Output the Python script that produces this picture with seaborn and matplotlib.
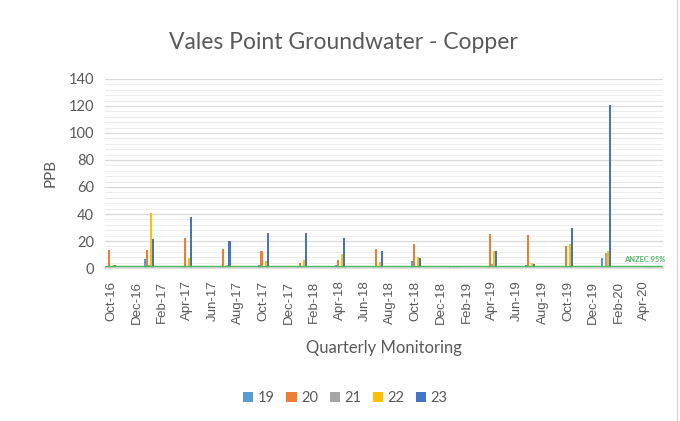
import numpy as np
import pandas as pd
import matplotlib
matplotlib.use("Agg")
import matplotlib.pyplot as plt
from matplotlib.lines import Line2D
from matplotlib.patches import Patch
import seaborn as sns

# Quarterly sampling rounds
sample_months = ["Oct-16", "Jan-17", "Apr-17", "Jul-17", "Oct-17", "Jan-18", "Apr-18",
                 "Jul-18", "Oct-18", "Jan-19", "Apr-19", "Jul-19", "Oct-19", "Jan-20", "Apr-20"]

# Copper (ppb) per monitoring bore
bore_19 = [0.5, 6.7, 1.7, 1.5, 2.2, 0.5, 2.5, 1.0, 5.2, 1.2, 0.5, 2.0, 1.0, 7.2, np.nan]
bore_20 = [13.5, 13.0, 22.2, 14.0, 12.8, 3.7, 5.7, 14.0, 18.0, np.nan, 25.2, 24.7, 16.0, 1.7, np.nan]
bore_21 = [1.0, 2.2, 1.0, 1.7, 0.5, 1.0, 1.5, 1.7, 1.7, 0.6, 2.7, 1.7, 1.7, 11.0, np.nan]
bore_22 = [2.0, 41.0, 7.7, 2.2, 5.2, 5.9, 10.4, 4.4, 8.4, np.nan, 12.6, 3.7, 18.0, 12.8, np.nan]
bore_23 = [2.5, 21.5, 38.0, 20.0, 26.2, 26.2, 22.2, 12.6, 7.4, 1.2, 12.6, 3.2, 30.0, 121.0, 0.8]

bore_names = ["19", "20", "21", "22", "23"]
bore_colors = ["#5B9BD5", "#ED7D31", "#A5A5A5", "#FFC000", "#4472C4"]

# Axis labels every second month
axis_labels = ["Oct-16", "Dec-16", "Feb-17", "Apr-17", "Jun-17", "Aug-17", "Oct-17", "Dec-17",
               "Feb-18", "Apr-18", "Jun-18", "Aug-18", "Oct-18", "Dec-18", "Feb-19", "Apr-19",
               "Jun-19", "Aug-19", "Oct-19", "Dec-19", "Feb-20", "Apr-20"]

anzecc_95 = 1.4

start = pd.Timestamp("2016-10-01")


def month_index(label):
    d = pd.to_datetime(label, format="%b-%y")
    return (d.year - start.year) * 12 + d.month - start.month


rows = []
for name, vals in zip(bore_names, [bore_19, bore_20, bore_21, bore_22, bore_23]):
    for m, v in zip(sample_months, vals):
        rows.append({"month": month_index(m) + 0.5, "ppb": v, "bore": name})
df = pd.DataFrame(rows)

sns.set_theme(style="white")
plt.rcParams["font.family"] = ["Lato", "DejaVu Sans"]

fig = plt.figure(figsize=(6.8, 4.21), dpi=100)
ax = fig.add_axes([0.1544, 0.3634, 0.8206, 0.449])

sns.barplot(data=df, x="month", y="ppb", hue="bore", hue_order=bore_names,
            palette=bore_colors, native_scale=True, errorbar=None,
            width=0.265, gap=0, ax=ax, legend=False, saturation=1,
            linewidth=0, edgecolor="none")
# crisp, pixel-snapped thin columns
for p in ax.patches:
    p.set_antialiased(False)

n_months = 44
ax.set_xlim(0, n_months)
ax.set_ylim(0, 140)

# Gridlines: major every 20, minor every 4
ax.set_yticks(np.arange(0, 141, 20))
ax.set_yticks(np.arange(0, 141, 4), minor=True)
ax.yaxis.grid(True, which="major", color="#d9d9d9", linewidth=0.9)
ax.yaxis.grid(True, which="minor", color="#ececec", linewidth=0.7)
ax.set_axisbelow(True)
ax.tick_params(axis="y", which="both", length=0, labelsize=10.5, labelcolor="#595959", pad=8)

# Tick marks at month-slot boundaries, labels at slot centres
ax.set_xticks(np.arange(0, n_months, 2))
ax.set_xticklabels([])
ax.set_xticks(np.arange(0, n_months, 2) + 0.5, minor=True)
ax.set_xticklabels(axis_labels, minor=True, rotation=90, fontsize=9.5,
                   family=["Liberation Sans", "DejaVu Sans"], color="#595959")
ax.tick_params(axis="x", which="major", length=5, width=0.8, color="#d9d9d9", direction="out")
ax.tick_params(axis="x", which="minor", length=0, pad=9)

for s in ["top", "right", "left"]:
    ax.spines[s].set_visible(False)
ax.spines["bottom"].set_color("#d9d9d9")

ax.axhline(anzecc_95, color="#4CB862", linewidth=1.0, zorder=5)
ax.text(1.004, 6.0, "ANZEC 95%", transform=ax.get_yaxis_transform(), ha="right", va="center",
        fontsize=5.4, fontweight="bold", color="#4CB862", clip_on=False)

ax.set_xlabel("Quarterly Monitoring", fontsize=12, color="#595959", labelpad=12)
ax.set_ylabel("PPB", fontsize=11, color="#595959", labelpad=8)

fig.text(0.505, 0.9, "Vales Point Groundwater - Copper", ha="center", va="center",
         fontsize=16.5, color="#595959")

handles = [Patch(facecolor=c, edgecolor="none") for c in bore_colors]
fig.legend(handles, bore_names, loc="center", bbox_to_anchor=(0.508, 0.055), ncol=5,
           frameon=False, fontsize=10.5, handlelength=0.7, handleheight=0.7,
           handletextpad=0.3, columnspacing=0.8, labelcolor="#595959")

fig.add_artist(Line2D([0.995, 0.995], [0, 1], transform=fig.transFigure,
                      color="#d9d9d9", linewidth=1))

fig.savefig("out.png", dpi=100)
